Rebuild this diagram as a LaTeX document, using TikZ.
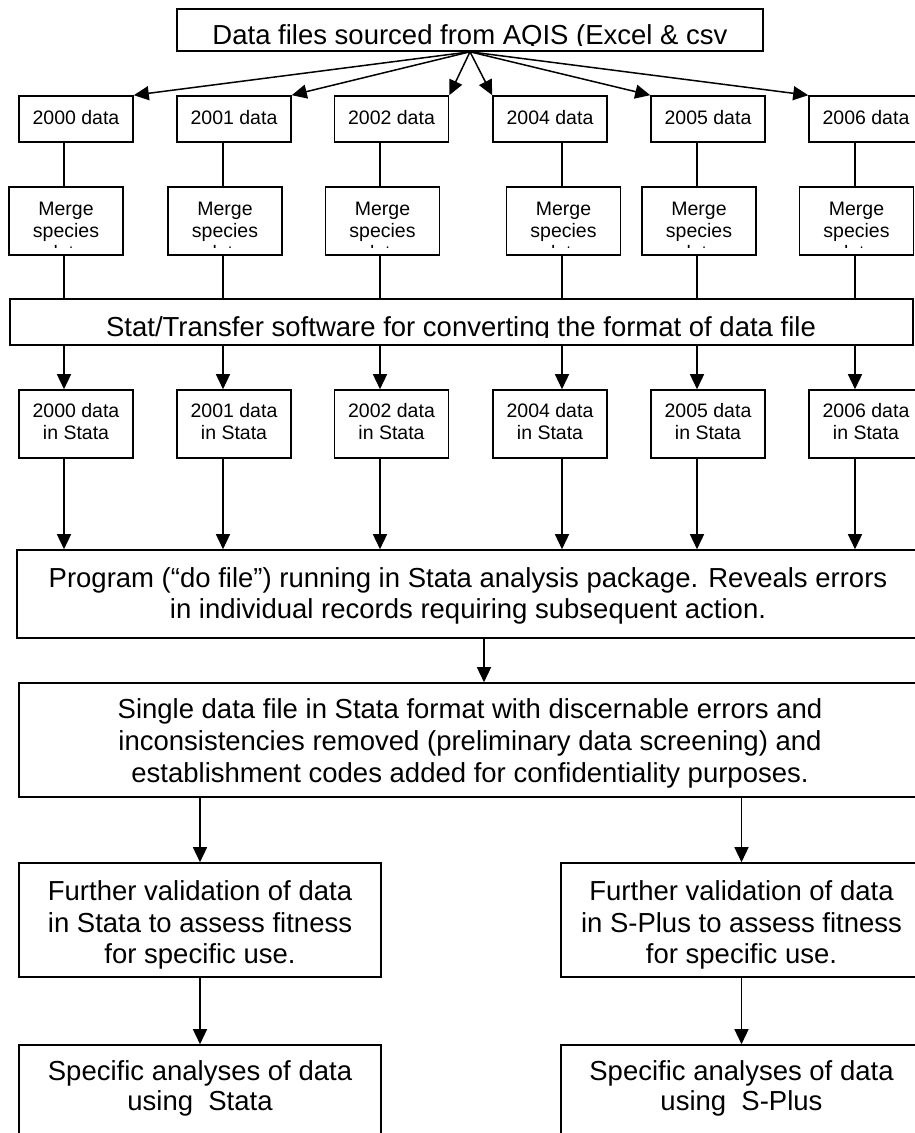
\documentclass[tikz,border=0pt]{standalone}
\usepackage{fontspec}
\setmainfont{Liberation Sans}
\usetikzlibrary{arrows.meta}
\tikzset{
  box/.style={draw, line width=1.6pt, inner sep=0pt, rectangle, minimum width=#1},
  box/.default=114pt,
  big/.style={font=\fontsize{27.5}{31.5}\selectfont, inner sep=0pt, anchor=base},
  small/.style={font=\fontsize{19.5}{22}\selectfont, inner sep=0pt, anchor=base},
  conn/.style={line width=1.5pt},
  arr/.style={conn, -{Triangle[length=15pt,width=14pt]}}
}
\begin{document}
\begin{tikzpicture}[x=1pt,y=-1pt]
\path[use as bounding box] (0,0) rectangle (915,1133);
\clip (0,0) rectangle (915,1133);
% column lines
\coordinate (c0) at (64,0);
\coordinate (c1) at (223,0);
\coordinate (c2) at (380,0);
\coordinate (c4) at (562,0);
\coordinate (c5) at (697,0);
\coordinate (c6) at (855,0);
\coordinate (cp) at (484,0);
% top box
\node[box=586pt, minimum height=42pt] (top) at (470,30) {};
\begin{scope}
  \clip ([yshift=6.5pt]top.south west) rectangle (top.north east);
  \node[big] (topt) at (470,44) {Data files sourced from AQIS (Excel \& csv};
\end{scope}
% data boxes
\foreach \n/\x/\y in {d0/76/2000, d1/234/2001, d2/391.5/2002, d4/550/2004, d5/708/2005, d6/866/2006}{
  \node[box, minimum height=46pt] (\n) at (\x,119) {};
  \node[small] (\n t) at (\x,124) {\y{} data};
}
% merge boxes
\foreach \n/\x in {m0/66, m1/225, m2/382.5, m4/563.5, m5/699, m6/856.5}{
  \node[box, minimum height=68pt] (\n) at (\x,221) {};
  \begin{scope}
    \clip ([yshift=8.5pt]\n.south west) rectangle (\n.north east);
    \node[small] (\n a) at (\x,215) {Merge};
    \node[small] (\n b) at (\x,237) {species};
    \node[small] (\n c) at (\x,259) {data};
  \end{scope}
}
% stat transfer box
\node[box=903pt, minimum height=46pt] (stat) at (461.5,322) {};
\begin{scope}
  \clip ([yshift=8pt]stat.south west) rectangle (stat.north east);
  \node[big] (statt) at (461,336) {Stat/Transfer software for converting the format of data file};
\end{scope}
% stata boxes
\foreach \n/\x/\y in {s0/76/2000, s1/234/2001, s2/391.5/2002, s4/550/2004, s5/708/2005, s6/866/2006}{
  \node[box, minimum height=68pt] (\n) at (\x,424) {};
  \node[small] (\n a) at (\x,417) {\y{} data};
  \node[small] (\n b) at (\x,439) {in Stata};
}
% program box
\node[box=903pt, minimum height=88pt] (prog) at (468.5,594) {};
\node[big] (proga) at (468,587) {Program (“do file”) running in Stata analysis package. Reveals errors};
\node[big] (progb) at (468,618) {in individual records requiring subsequent action.};
% single data file box
\node[box=902pt, minimum height=114pt] (single) at (470,740) {};
\node[big] (singa) at (470,718) {Single data file in Stata format with discernable errors and};
\node[big] (singb) at (470,750) {inconsistencies removed (preliminary data screening) and};
\node[big] (singc) at (470,782) {establishment codes added for confidentiality purposes.};
% further validation
\node[box=362pt, minimum height=114pt] (fvl) at (200,920) {};
\node[big] (fvla) at (200,900) {Further validation of data};
\node[big] (fvlb) at (200,932) {in Stata to assess fitness};
\node[big] (fvlc) at (200,963) {for specific use.};
\node[box=361pt, minimum height=114pt] (fvr) at (741.5,920) {};
\node[big] (fvra) at (741.5,900) {Further validation of data};
\node[big] (fvrb) at (741.5,932) {in S-Plus to assess fitness};
\node[big] (fvrc) at (741.5,963) {for specific use.};
% specific analyses
\node[box=362pt, minimum height=115pt] (sal) at (200,1102.5) {};
\node[big] (sala) at (200,1080) {Specific analyses of data};
\node[big] (salb) at (200,1110) {using\ \ Stata};
\node[box=361pt, minimum height=115pt] (sar) at (741.5,1102.5) {};
\node[big] (sara) at (741.5,1080) {Specific analyses of data};
\node[big] (sarb) at (741.5,1110) {using\ \ S-Plus};
% fan arrows
\draw[arr] (top.south) -- (d0.north east);
\draw[arr] (top.south) -- (d1.north east);
\draw[arr] (top.south) -- (d2.north east);
\draw[arr] (top.south) -- (d4.north west);
\draw[arr] (top.south) -- (d5.north west);
\draw[arr] (top.south) -- (d6.north west);
% columns
\foreach \i in {0,1,2,4,5,6}{
  \draw[conn] (d\i.south -| c\i) -- (m\i.north -| c\i);
  \draw[conn] (m\i.south -| c\i) -- (stat.north -| c\i);
  \draw[arr] (stat.south -| c\i) -- (s\i.north -| c\i);
  \draw[arr] (s\i.south -| c\i) -- (prog.north -| c\i);
}
\draw[arr] (prog.south -| cp) -- (single.north -| cp);
\draw[arr] (single.south -| fvl) -- (fvl.north);
\draw[arr] (single.south -| fvr) -- (fvr.north);
\draw[arr] (fvl.south) -- (sal.north);
\draw[arr] (fvr.south) -- (sar.north);
\end{tikzpicture}
\end{document}
